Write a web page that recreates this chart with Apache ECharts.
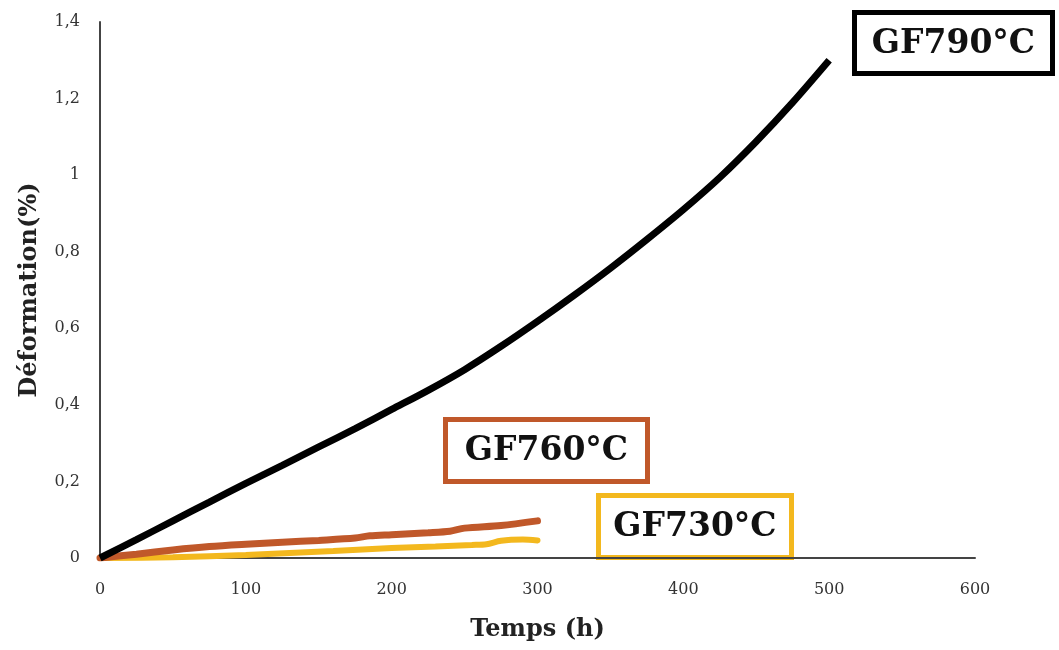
<!DOCTYPE html>
<html><head><meta charset="utf-8">
<script src="https://cdn.jsdelivr.net/npm/echarts@6/dist/echarts.min.js"></script>
<style>html,body{margin:0;padding:0;background:#fff}#c{width:1059px;height:650px}</style>
</head><body><div id="c"></div>
<script>
// Data
const t790 = [0, 25, 50, 75, 100, 125, 150, 175, 200, 225, 250, 275, 300, 325, 350, 375, 400, 425, 450, 475, 500];
const v790 = [0, 0.048, 0.097, 0.146, 0.195, 0.242, 0.29, 0.338, 0.388, 0.438, 0.492, 0.553, 0.618, 0.686, 0.757, 0.832, 0.91, 0.994, 1.088, 1.19, 1.3];
const t760 = [0, 25, 50, 75, 100, 125, 150, 175, 185, 200, 225, 240, 250, 275, 300];
const v760 = [0, 0.01, 0.021, 0.03, 0.036, 0.041, 0.046, 0.052, 0.058, 0.061, 0.066, 0.07, 0.078, 0.085, 0.097];
const t730 = [0, 50, 100, 130, 160, 200, 230, 255, 265, 275, 290, 300];
const v730 = [0, 0.002, 0.008, 0.013, 0.018, 0.026, 0.03, 0.034, 0.036, 0.045, 0.048, 0.046];
const xTicks = [0, 100, 200, 300, 400, 500, 600];
const yTicks = [0, 0.2, 0.4, 0.6, 0.8, 1, 1.2, 1.4];
const names = ['GF790°C', 'GF760°C', 'GF730°C'];
const colors = ['#000000', '#C0582A', '#F3B81E'];

const pair = (t, v) => t.map((x, i) => [x, v[i]]);
const serif = '"DejaVu Serif", "Liberation Serif", serif';

function box(x, y, w, h, txt, col) {
  return {
    type: 'group', left: x, top: y, z: 100,
    children: [
      {type: 'rect', shape: {x: 0, y: 0, width: w, height: h},
       style: {fill: '#fff', stroke: col, lineWidth: 5}},
      {type: 'text', x: w / 2, y: h / 2 + 1,
       style: {text: txt, align: 'center', verticalAlign: 'middle',
               font: 'bold 33px ' + serif, fill: '#111'}}
    ]
  };
}

const chart = echarts.init(document.getElementById('c'));
chart.setOption({
  animation: false,
  grid: {left: 100, right: 84, top: 22, bottom: 92},
  xAxis: {
    type: 'value', min: 0, max: 600, interval: 100,
    name: 'Temps (h)', nameLocation: 'middle', nameGap: 60,
    nameTextStyle: {fontFamily: serif, fontWeight: 'bold', fontSize: 24, color: '#222'},
    axisLine: {lineStyle: {color: '#444', width: 2}},
    axisTick: {show: false}, splitLine: {show: false},
    axisLabel: {fontFamily: serif, fontSize: 16, color: '#333', margin: 24,
      formatter: v => xTicks.includes(v) ? String(v) : ''}
  },
  yAxis: {
    type: 'value', min: 0, max: 1.4, interval: 0.2,
    name: 'Déformation(%)', nameLocation: 'middle', nameGap: 58, nameRotate: 90,
    nameTextStyle: {fontFamily: serif, fontWeight: 'bold', fontSize: 24, color: '#222'},
    axisLine: {show: true, lineStyle: {color: '#444', width: 2}},
    axisTick: {show: false}, splitLine: {show: false},
    axisLabel: {fontFamily: serif, fontSize: 16, color: '#333', margin: 20,
      formatter: v => String(+v.toFixed(1)).replace('.', ',')}
  },
  series: [
    {name: names[0], type: 'line', data: pair(t790, v790), showSymbol: false, smooth: 0.3,
     lineStyle: {color: colors[0], width: 7}, z: 3},
    {name: names[1], type: 'line', data: pair(t760, v760), showSymbol: false, smooth: 0.3,
     lineStyle: {color: colors[1], width: 7, cap: 'round'}, z: 2},
    {name: names[2], type: 'line', data: pair(t730, v730), showSymbol: false, smooth: 0.3,
     lineStyle: {color: colors[2], width: 6, cap: 'round'}, z: 1}
  ],
  graphic: [
    box(852, 10, 198, 61, names[0], colors[0]),
    box(443, 417, 202, 62, names[1], colors[1]),
    box(596, 493, 193, 62, names[2], colors[2])
  ]
});
</script></body></html>
